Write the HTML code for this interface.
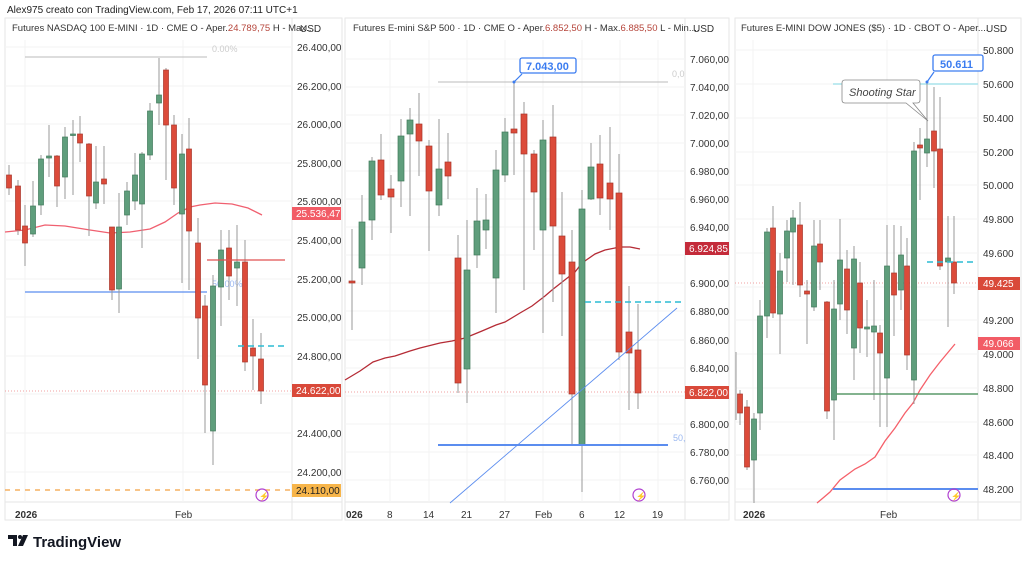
<!DOCTYPE html>
<html><head><meta charset="utf-8"><style>
body{margin:0;background:#fff;}
svg{display:block;font-family:"Liberation Sans",sans-serif;}
.ax{font-size:10px;fill:#333;}
.g{fill:#5f9e7c;stroke:#3f7a5a;stroke-width:0.7}
.r{fill:#dc4b3a;stroke:#a8352a;stroke-width:0.7}
.w{stroke:#999;stroke-width:1;fill:none}
</style></head><body>
<svg width="1024" height="562" viewBox="0 0 1024 562">
<rect width="1024" height="562" fill="#fff"/>
<text x="7" y="13" font-size="10" fill="#222">Alex975 creato con TradingView.com, Feb 17, 2026 07:11 UTC+1</text>
<g stroke="#e6e6e6" fill="none">
<rect x="5" y="18" width="337" height="502"/>
<rect x="345" y="18" width="384" height="502"/>
<rect x="735" y="18" width="286" height="502"/>
<line x1="292" y1="18" x2="292" y2="520"/>
<line x1="685" y1="18" x2="685" y2="520"/>
<line x1="978" y1="18" x2="978" y2="520"/>
<line x1="5" y1="502" x2="342" y2="502"/>
<line x1="345" y1="502" x2="729" y2="502"/>
<line x1="735" y1="502" x2="1021" y2="502"/>
</g>
<g stroke="#f3f3f3">
<line x1="5" y1="47" x2="292" y2="47"/><line x1="5" y1="86" x2="292" y2="86"/><line x1="5" y1="124" x2="292" y2="124"/><line x1="5" y1="163" x2="292" y2="163"/><line x1="5" y1="201" x2="292" y2="201"/><line x1="5" y1="240" x2="292" y2="240"/><line x1="5" y1="279" x2="292" y2="279"/><line x1="5" y1="317" x2="292" y2="317"/><line x1="5" y1="356" x2="292" y2="356"/><line x1="5" y1="394" x2="292" y2="394"/><line x1="5" y1="433" x2="292" y2="433"/><line x1="5" y1="472" x2="292" y2="472"/>
<line x1="25" y1="40" x2="25" y2="502"/><line x1="183" y1="40" x2="183" y2="502"/>
<line x1="345" y1="59" x2="685" y2="59"/><line x1="345" y1="87" x2="685" y2="87"/><line x1="345" y1="115" x2="685" y2="115"/><line x1="345" y1="143" x2="685" y2="143"/><line x1="345" y1="171" x2="685" y2="171"/><line x1="345" y1="199" x2="685" y2="199"/><line x1="345" y1="227" x2="685" y2="227"/><line x1="345" y1="255" x2="685" y2="255"/><line x1="345" y1="283" x2="685" y2="283"/><line x1="345" y1="311" x2="685" y2="311"/><line x1="345" y1="340" x2="685" y2="340"/><line x1="345" y1="368" x2="685" y2="368"/><line x1="345" y1="396" x2="685" y2="396"/><line x1="345" y1="424" x2="685" y2="424"/><line x1="345" y1="452" x2="685" y2="452"/><line x1="345" y1="480" x2="685" y2="480"/>
<line x1="390" y1="40" x2="390" y2="502"/><line x1="429" y1="40" x2="429" y2="502"/><line x1="467" y1="40" x2="467" y2="502"/><line x1="505" y1="40" x2="505" y2="502"/><line x1="543" y1="40" x2="543" y2="502"/><line x1="582" y1="40" x2="582" y2="502"/><line x1="620" y1="40" x2="620" y2="502"/><line x1="658" y1="40" x2="658" y2="502"/>
<line x1="735" y1="50" x2="978" y2="50"/><line x1="735" y1="84" x2="978" y2="84"/><line x1="735" y1="118" x2="978" y2="118"/><line x1="735" y1="152" x2="978" y2="152"/><line x1="735" y1="185" x2="978" y2="185"/><line x1="735" y1="219" x2="978" y2="219"/><line x1="735" y1="253" x2="978" y2="253"/><line x1="735" y1="287" x2="978" y2="287"/><line x1="735" y1="320" x2="978" y2="320"/><line x1="735" y1="354" x2="978" y2="354"/><line x1="735" y1="388" x2="978" y2="388"/><line x1="735" y1="422" x2="978" y2="422"/><line x1="735" y1="455" x2="978" y2="455"/><line x1="735" y1="489" x2="978" y2="489"/>
<line x1="753" y1="40" x2="753" y2="502"/><line x1="887" y1="40" x2="887" y2="502"/>
</g>

<!-- PANEL 1 -->
<text x="12" y="31" font-size="9.5" fill="#333">Futures NASDAQ 100 E-MINI · 1D · CME  O - Aper.<tspan fill="#b5443a">24.789,75</tspan>  H - Max....</text>
<text x="300" y="32" class="ax">USD</text>
<line x1="25" y1="57" x2="207" y2="57" stroke="#bbb"/>
<text x="212" y="52" font-size="9" fill="#ccc">0.00%</text>
<line x1="25" y1="292" x2="207" y2="292" stroke="#5b8def" stroke-width="1.3"/>
<text x="212" y="287" font-size="9" fill="#9bb8f0">50.00%</text>
<line x1="5" y1="391" x2="292" y2="391" stroke="#f0a0a0" stroke-dasharray="1,2"/>
<line x1="5" y1="490" x2="290" y2="490" stroke="#f5b060" stroke-width="1.5" stroke-dasharray="5,5"/>
<polyline points="5,232 25,230 45,225 65,226 90,230 110,233 130,232 150,229 165,222 178,213 190,207 200,205 215,203 232,204 248,208 262,215" fill="none" stroke="#f06070" stroke-width="1.3"/>
<path class="w" d="M9 165V195 M18 180V235 M25 205V266 M33 181V237 M41 155V215 M49 125V177 M57 155V207 M65 127V199 M73 120V195 M80 116V162 M89 143V236 M96 146V209 M104 146V204 M112 227V300 M119 193V313 M127 182V225 M135 153V210 M142 152V248 M150 103V160 M159 58V125 M166 68V180 M174 115V205 M182 134V283 M189 118V290 M198 218V359 M205 295V433 M213 275V465 M221 230V326 M229 230V300 M237 225V306 M245 240V371 M253 319V390 M261 333V404"/>
<g>
<rect class="r" x="6.5" y="175" width="5" height="13"/>
<rect class="r" x="15.5" y="186" width="5" height="44"/>
<rect class="r" x="22.5" y="226" width="5" height="17"/>
<rect class="g" x="30.5" y="206" width="5" height="28"/>
<rect class="g" x="38.5" y="159" width="5" height="46"/>
<rect class="g" x="46.5" y="156" width="5" height="2"/>
<rect class="r" x="54.5" y="156" width="5" height="30"/>
<rect class="g" x="62.5" y="137" width="5" height="40"/>
<rect class="g" x="70.5" y="134" width="5" height="1.5"/>
<rect class="r" x="77.5" y="134" width="5" height="9"/>
<rect class="r" x="86.5" y="144" width="5" height="52"/>
<rect class="g" x="93.5" y="182" width="5" height="21"/>
<rect class="r" x="101.5" y="179" width="5" height="5"/>
<rect class="r" x="109.5" y="227" width="5" height="63"/>
<rect class="g" x="116.5" y="227" width="5" height="62"/>
<rect class="g" x="124.5" y="191" width="5" height="24"/>
<rect class="g" x="132.5" y="175" width="5" height="26"/>
<rect class="g" x="139.5" y="154" width="5" height="50"/>
<rect class="g" x="147.5" y="111" width="5" height="44"/>
<rect class="g" x="156.5" y="95" width="5" height="8"/>
<rect class="r" x="163.5" y="70" width="5" height="55"/>
<rect class="r" x="171.5" y="125" width="5" height="63"/>
<rect class="g" x="179.5" y="154" width="5" height="60"/>
<rect class="r" x="186.5" y="149" width="5" height="82"/>
<rect class="r" x="195.5" y="243" width="5" height="75"/>
<rect class="r" x="202.5" y="306" width="5" height="79"/>
<rect class="g" x="210.5" y="286" width="5" height="145"/>
<rect class="g" x="218.5" y="250" width="5" height="37"/>
<rect class="r" x="226.5" y="248" width="5" height="28"/>
<rect class="g" x="234.5" y="262" width="5" height="6"/>
<rect class="r" x="242.5" y="262" width="5" height="100"/>
<rect class="r" x="250.5" y="348" width="5" height="8"/>
<rect class="r" x="258.5" y="359" width="5" height="32"/>
</g>
<line x1="207" y1="260" x2="285" y2="260" stroke="#e05050" stroke-width="1.3"/>
<line x1="238" y1="346" x2="285" y2="346" stroke="#2bbcd4" stroke-width="1.5" stroke-dasharray="6,4"/>
<g class="ax">
<text x="297" y="51">26.400,00</text><text x="297" y="90">26.200,00</text><text x="297" y="128">26.000,00</text><text x="297" y="167">25.800,00</text><text x="297" y="205">25.600,00</text><text x="297" y="244">25.400,00</text><text x="297" y="283">25.200,00</text><text x="297" y="321">25.000,00</text><text x="297" y="360">24.800,00</text><text x="297" y="437">24.400,00</text><text x="297" y="476">24.200,00</text>
</g>
<rect x="292" y="207" width="49" height="13" fill="#f25c66"/><text x="296" y="217" font-size="10" fill="#fff">25.536,47</text>
<rect x="292" y="384" width="49" height="13" fill="#d9493a"/><text x="296" y="394" font-size="10" fill="#fff">24.622,00</text>
<rect x="292" y="484" width="49" height="13" fill="#f7b54a"/><text x="296" y="494" font-size="10" fill="#222">24.110,00</text>
<circle cx="262" cy="495" r="6" fill="none" stroke="#b040d0" stroke-width="1.2"/><text x="259" y="499" font-size="8" fill="#b040d0">⚡</text>
<text x="15" y="518" class="ax" font-weight="bold">2026</text><text x="175" y="518" class="ax">Feb</text>

<!-- PANEL 2 -->
<text x="353" y="31" font-size="9.5" fill="#333">Futures E-mini S&amp;P 500 · 1D · CME  O - Aper.<tspan fill="#b5443a">6.852,50</tspan>  H - Max.<tspan fill="#b5443a">6.885,50</tspan>  L - Min....</text>
<text x="693" y="32" class="ax">USD</text>
<line x1="438" y1="82" x2="668" y2="82" stroke="#bbb"/>
<text x="672" y="77" font-size="9" fill="#ccc">0,0</text>
<line x1="345" y1="392" x2="685" y2="392" stroke="#f0a0a0" stroke-dasharray="1,2"/>
<polyline points="345,380 360,371 373,362 385,358 395,356 410,351 420,348 440,343 452,341 465,338 482,331 496,325 505,322 520,313 532,306 545,296 552,290 566,279 575,272 582,263 595,254 605,250 620,247 630,247 640,249" fill="none" stroke="#b52b35" stroke-width="1.3"/>
<path class="w" d="M352 229V330 M362 195V285 M372 157V240 M381 134V200 M391 175V233 M401 119V207 M410 108V216 M419 93V176 M429 140V251 M439 119V216 M448 133V199 M458 235V393 M467 220V403 M477 188V268 M486 194V249 M496 150V313 M505 118V182 M514 82V175 M524 102V290 M534 150V250 M543 120V333 M553 105V302 M562 192V336 M572 230V445 M582 190V492 M591 143V200 M600 135V215 M610 127V230 M619 154V360 M629 286V410 M638 304V409"/>
<g>
<rect class="r" x="349" y="281" width="6" height="2"/>
<rect class="g" x="359" y="222" width="6" height="46"/>
<rect class="g" x="369" y="161" width="6" height="59"/>
<rect class="r" x="378" y="160" width="6" height="35"/>
<rect class="r" x="388" y="189" width="6" height="8"/>
<rect class="g" x="398" y="136" width="6" height="45"/>
<rect class="g" x="407" y="120" width="6" height="14"/>
<rect class="r" x="416" y="124" width="6" height="17"/>
<rect class="r" x="426" y="146" width="6" height="45"/>
<rect class="g" x="436" y="169" width="6" height="36"/>
<rect class="r" x="445" y="162" width="6" height="14"/>
<rect class="r" x="455" y="258" width="6" height="125"/>
<rect class="g" x="464" y="270" width="6" height="99"/>
<rect class="g" x="474" y="221" width="6" height="34"/>
<rect class="g" x="483" y="220" width="6" height="10"/>
<rect class="g" x="493" y="170" width="6" height="108"/>
<rect class="g" x="502" y="132" width="6" height="43"/>
<rect class="r" x="511" y="129" width="6" height="4"/>
<rect class="r" x="521" y="114" width="6" height="40"/>
<rect class="r" x="531" y="154" width="6" height="38"/>
<rect class="g" x="540" y="140" width="6" height="90"/>
<rect class="r" x="550" y="137" width="6" height="89"/>
<rect class="r" x="559" y="236" width="6" height="38"/>
<rect class="r" x="569" y="262" width="6" height="132"/>
<rect class="g" x="579" y="209" width="6" height="236"/>
<rect class="g" x="588" y="167" width="6" height="32"/>
<rect class="r" x="597" y="164" width="6" height="34"/>
<rect class="r" x="607" y="183" width="6" height="16"/>
<rect class="r" x="616" y="193" width="6" height="159"/>
<rect class="r" x="626" y="332" width="6" height="21"/>
<rect class="r" x="635" y="350" width="6" height="43"/>
</g>
<line x1="438" y1="445" x2="668" y2="445" stroke="#5b8def" stroke-width="2"/>
<text x="673" y="441" font-size="9" fill="#9bb8f0">50,</text>
<line x1="450" y1="503" x2="677" y2="308" stroke="#5b8def" stroke-width="0.9"/>
<line x1="585" y1="302" x2="685" y2="302" stroke="#2bbcd4" stroke-width="1.5" stroke-dasharray="6,4"/>
<path d="M514 82 L522 74" stroke="#3b7cf0" stroke-width="1.2"/><circle cx="514" cy="82" r="1.5" fill="#3b7cf0"/>
<rect x="520" y="58" width="56" height="15" rx="2" fill="#fff" stroke="#3b7cf0" stroke-width="1.3"/>
<text x="526" y="70" font-size="11" font-weight="bold" fill="#3b7cf0">7.043,00</text>
<g class="ax">
<text x="690" y="63">7.060,00</text><text x="690" y="91">7.040,00</text><text x="690" y="119">7.020,00</text><text x="690" y="147">7.000,00</text><text x="690" y="175">6.980,00</text><text x="690" y="203">6.960,00</text><text x="690" y="231">6.940,00</text><text x="690" y="287">6.900,00</text><text x="690" y="315">6.880,00</text><text x="690" y="344">6.860,00</text><text x="690" y="372">6.840,00</text><text x="690" y="428">6.800,00</text><text x="690" y="456">6.780,00</text><text x="690" y="484">6.760,00</text>
</g>
<rect x="685" y="242" width="44" height="13" fill="#c42b3a"/><text x="689" y="252" font-size="10" fill="#fff">6.924,85</text>
<rect x="685" y="386" width="44" height="13" fill="#d9493a"/><text x="689" y="396" font-size="10" fill="#fff">6.822,00</text>
<circle cx="639" cy="495" r="6" fill="none" stroke="#b040d0" stroke-width="1.2"/><text x="636" y="499" font-size="8" fill="#b040d0">⚡</text>
<g class="ax"><text x="346" y="518" font-weight="bold">026</text><text x="387" y="518">8</text><text x="423" y="518">14</text><text x="461" y="518">21</text><text x="499" y="518">27</text><text x="535" y="518">Feb</text><text x="579" y="518">6</text><text x="614" y="518">12</text><text x="652" y="518">19</text></g>

<!-- PANEL 3 -->
<text x="741" y="31" font-size="9.5" fill="#333">Futures E-MINI DOW JONES ($5) · 1D · CBOT  O - Aper....</text>
<text x="986" y="32" class="ax">USD</text>
<line x1="833" y1="84" x2="978" y2="84" stroke="#a9e3ec" stroke-width="1.5"/>
<line x1="735" y1="283" x2="978" y2="283" stroke="#f0a0a0" stroke-dasharray="1,2"/>
<polyline points="817,503 823,498 830,492 840,480 855,469 865,464 875,457 885,441 895,428 905,413 913,403 920,390 930,375 940,362 950,350 955,344" fill="none" stroke="#f5606a" stroke-width="1.3"/>
<path class="w" d="M736 352V420 M740 390V425 M747 400V470 M754 413V503 M760 300V430 M767 228V338 M773 206V318 M780 253V354 M787 220V282 M793 210V285 M800 202V297 M807 280V344 M814 220V311 M820 220V290 M827 301V419 M834 280V440 M840 219V320 M847 250V334 M854 246V380 M860 262V353 M867 300V357 M874 280V400 M880 325V427 M887 225V427 M894 225V336 M901 226V310 M907 238V370 M914 142V404 M920 128V200 M927 82V167 M934 87V188 M940 97V270 M948 216V327 M954 216V294"/>
<g>
<rect class="r" x="737.5" y="394" width="5" height="19"/>
<rect class="r" x="744.5" y="407" width="5" height="60"/>
<rect class="g" x="751.5" y="419" width="5" height="41"/>
<rect class="g" x="757.5" y="316" width="5" height="97"/>
<rect class="g" x="764.5" y="232" width="5" height="84"/>
<rect class="r" x="770.5" y="228" width="5" height="85"/>
<rect class="g" x="777.5" y="271" width="5" height="43"/>
<rect class="g" x="784.5" y="231" width="5" height="27"/>
<rect class="g" x="790.5" y="218" width="5" height="14"/>
<rect class="r" x="797.5" y="225" width="5" height="60"/>
<rect class="r" x="804.5" y="291" width="5" height="3"/>
<rect class="g" x="811.5" y="246" width="5" height="61"/>
<rect class="r" x="817.5" y="244" width="5" height="18"/>
<rect class="r" x="824.5" y="302" width="5" height="109"/>
<rect class="g" x="831.5" y="309" width="5" height="91"/>
<rect class="g" x="837.5" y="260" width="5" height="44"/>
<rect class="r" x="844.5" y="269" width="5" height="41"/>
<rect class="g" x="851.5" y="259" width="5" height="89"/>
<rect class="r" x="857.5" y="283" width="5" height="45"/>
<rect class="g" x="864.5" y="327" width="5" height="2"/>
<rect class="g" x="871.5" y="326" width="5" height="6"/>
<rect class="r" x="877.5" y="333" width="5" height="20"/>
<rect class="g" x="884.5" y="266" width="5" height="112"/>
<rect class="r" x="891.5" y="273" width="5" height="22"/>
<rect class="g" x="898.5" y="255" width="5" height="35"/>
<rect class="r" x="904.5" y="266" width="5" height="89"/>
<rect class="g" x="911.5" y="151" width="5" height="229"/>
<rect class="r" x="917.5" y="145" width="5" height="3"/>
<rect class="g" x="924.5" y="139" width="5" height="14"/>
<rect class="r" x="931.5" y="131" width="5" height="20"/>
<rect class="r" x="937.5" y="149" width="5" height="117"/>
<rect class="g" x="945.5" y="258" width="5" height="4"/>
<rect class="r" x="951.5" y="262" width="5" height="21"/>
</g>
<line x1="836" y1="394" x2="978" y2="394" stroke="#5a9a6a" stroke-width="1.5"/>
<line x1="833" y1="489" x2="978" y2="489" stroke="#5b8def" stroke-width="2"/>
<line x1="927" y1="262" x2="975" y2="262" stroke="#2bbcd4" stroke-width="1.5" stroke-dasharray="6,4"/>
<path d="M927 82 L934 72" stroke="#3b7cf0" stroke-width="1.2"/><circle cx="927" cy="82" r="1.5" fill="#3b7cf0"/>
<rect x="933" y="55" width="50" height="16" rx="2" fill="#fff" stroke="#3b7cf0" stroke-width="1.3"/>
<text x="940" y="68" font-size="11" font-weight="bold" fill="#3b7cf0">50.611</text>
<path d="M845 80 H917 Q920 80 920 83 V100 Q920 103 917 103 H913 L928 121 L906 103 H845 Q842 103 842 100 V83 Q842 80 845 80 Z" fill="#fff" stroke="#888" stroke-width="0.8"/>
<text x="849" y="96" font-size="11" font-style="italic" fill="#444">Shooting Star</text>
<g class="ax">
<text x="983" y="54">50.800</text><text x="983" y="88">50.600</text><text x="983" y="122">50.400</text><text x="983" y="156">50.200</text><text x="983" y="189">50.000</text><text x="983" y="223">49.800</text><text x="983" y="257">49.600</text><text x="983" y="324">49.200</text><text x="983" y="358">49.000</text><text x="983" y="392">48.800</text><text x="983" y="426">48.600</text><text x="983" y="459">48.400</text><text x="983" y="493">48.200</text>
</g>
<rect x="978" y="277" width="42" height="13" fill="#d9493a"/><text x="983" y="287" font-size="10" fill="#fff">49.425</text>
<rect x="978" y="337" width="42" height="13" fill="#f25c66"/><text x="983" y="347" font-size="10" fill="#fff">49.066</text>
<circle cx="954" cy="495" r="6" fill="none" stroke="#b040d0" stroke-width="1.2"/><text x="951" y="499" font-size="8" fill="#b040d0">⚡</text>
<text x="743" y="518" class="ax" font-weight="bold">2026</text><text x="880" y="518" class="ax">Feb</text>

<g transform="translate(8,535)">
<path d="M0 0 H9 V11 H5 V4 H0 Z" fill="#131722"/><circle cx="12" cy="2" r="2" fill="#131722"/><path d="M15 0 H20 L15 11 H10 Z" fill="#131722"/>
</g>
<text x="33" y="547" font-size="15" font-weight="bold" fill="#131722">TradingView</text>
</svg>
</body></html>
